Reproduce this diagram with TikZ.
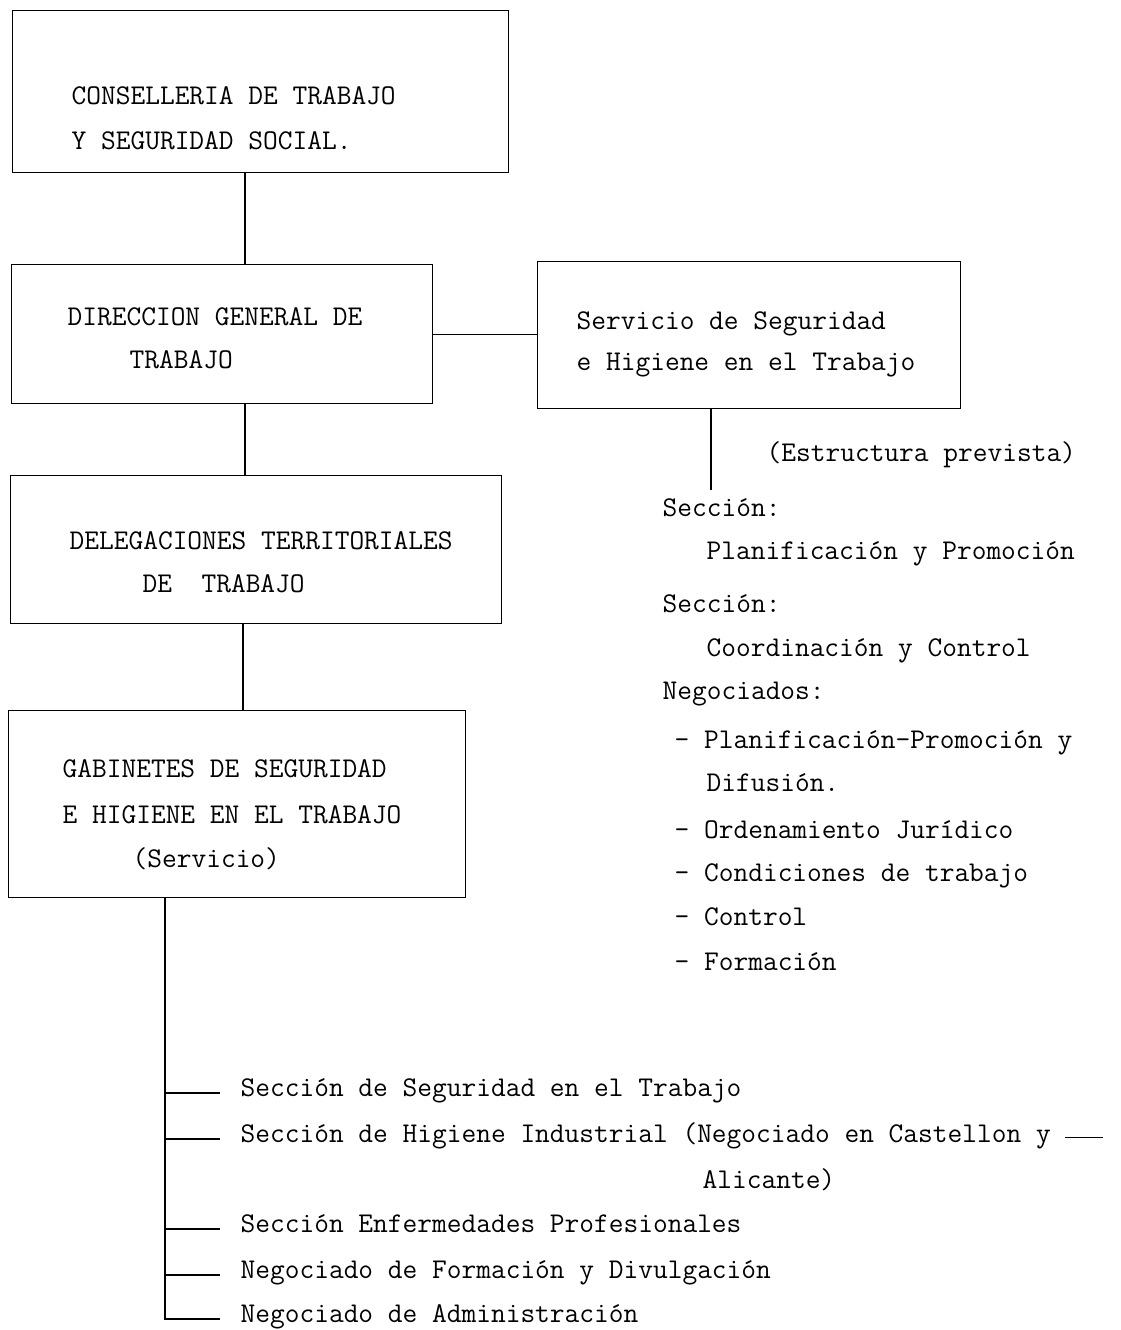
\documentclass[tikz,border=0pt]{standalone}
\usepackage{fontspec}
\usepackage{tikz}
\usetikzlibrary{calc}

\tikzset{
  caja/.style={draw, line width=1.3pt, inner sep=0pt, anchor=north west},
  linea/.style={anchor=base west, inner sep=0pt},
}

\begin{document}
\begin{tikzpicture}[x=1pt,y=-1pt,font=\ttfamily\fontsize{28.6}{34}\selectfont,line width=1.3pt]
\useasboundingbox (0,0) rectangle (1121,1330);
% cajas
\path
(12,10) node[caja,minimum width=496,minimum height=162](consejeria) {}
(11,264) node[caja,minimum width=421,minimum height=139](direccion) {}
(537,261) node[caja,minimum width=423,minimum height=147](servicio) {}
(10,475) node[caja,minimum width=491,minimum height=148](delegaciones) {}
(8,710) node[caja,minimum width=457,minimum height=187](gabinetes) {};

% textos de las cajas
\path
(71,104) node[linea](c1) {CONSELLERIA DE TRABAJO}
(71,149) node[linea](c2) {Y SEGURIDAD SOCIAL.}
(67,325) node[linea](d1) {DIRECCION GENERAL DE}
(129,368) node[linea](d2) {TRABAJO}
(576,329) node[linea](s1) {Servicio de Seguridad}
(576,370) node[linea](s2) {e Higiene en el Trabajo}
(69,549) node[linea](e1) {DELEGACIONES TERRITORIALES}
(142,592) node[linea](e2) {DE~~TRABAJO}
(62,777) node[linea](g1) {GABINETES DE SEGURIDAD}
(62,823) node[linea](g2) {E HIGIENE EN EL TRABAJO}
(132,867) node[linea](g3) {(Servicio)};

% estructura prevista
\path
(766,461) node[linea](prevista) {(Estructura prevista)}
(662,516) node[linea](sec1) {Sección:}
(706,559) node[linea](plan) {Planificación y Promoción}
(662,612) node[linea](sec2) {Sección:}
(706,656) node[linea](coord) {Coordinación y Control}
(662,699) node[linea](neg) {Negociados:}
(674,748) node[linea](n1) {- Planificación-Promoción y}
(706,791) node[linea](n1b) {Difusión.}
(674,838) node[linea](n2) {- Ordenamiento Jurídico}
(674,881) node[linea](n3) {- Condiciones de trabajo}
(674,925) node[linea](n4) {- Control}
(674,970) node[linea](n5) {- Formación};

% secciones del gabinete
\path
(240,1096) node[linea](seguridad) {Sección de Seguridad en el Trabajo}
(240,1142) node[linea](higiene) {Sección de Higiene Industrial (Negociado en Castellon y \rule[4pt]{38pt}{1.2pt}}
(702,1188) node[linea](alicante) {Alicante)}
(240,1232) node[linea](enfermedades) {Sección Enfermedades Profesionales}
(240,1278) node[linea](formacion) {Negociado de Formación y Divulgación}
(240,1322) node[linea](administracion) {Negociado de Administración};

\coordinate (eje) at (245,0);
\coordinate (eje2) at (243,0);
\coordinate (estructura) at (711,490);
\coordinate (rama) at (165,0);

\draw (consejeria.south -| eje) -- (direccion.north -| eje);
\draw (direccion.south -| eje) -- (delegaciones.north -| eje);
\draw (delegaciones.south -| eje2) -- (gabinetes.north -| eje2);
\draw (direccion.east) -- (direccion.east -| servicio.west);
\draw (servicio.south -| estructura) -- (estructura);

\draw (gabinetes.south -| rama) |- ($(administracion.base west)+(-20,-3)$);
\foreach \n in {seguridad,higiene,enfermedades,formacion}
  \draw ($(\n.base west -| rama)+(0,-3)$) -- ($(\n.base west)+(-20,-3)$);
\end{tikzpicture}
\end{document}
